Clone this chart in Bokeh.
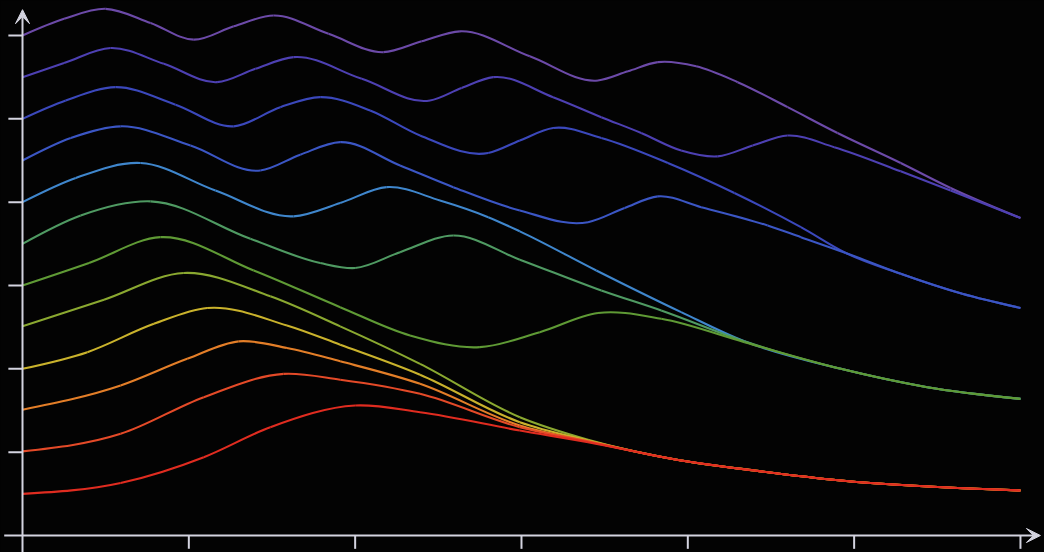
from bokeh.plotting import figure
from bokeh.models import Range1d, Arrow, VeeHead, ColumnDataSource
from bokeh.embed import file_html
from bokeh.resources import INLINE

# ---------------- data (in axis units) ----------------
x_tick_values = [1, 2, 3, 4, 5, 6]
y_tick_values = [1, 2, 3, 4, 5, 6]

x11 = [0, 0.25, 0.50, 0.77, 1.03, 1.27, 1.51, 1.84, 2.17, 2.40, 2.63, 3.05, 3.46, 3.64, 3.82, 4.05, 4.30, 4.60, 4.90, 5.28, 5.58, 6.0]
y11 = [6.0, 6.20, 6.32, 6.15, 5.95, 6.11, 6.24, 6.02, 5.80, 5.93, 6.05, 5.75, 5.46, 5.57, 5.68, 5.63, 5.44, 5.14, 4.83, 4.47, 4.17, 3.81]

x10 = [0, 0.25, 0.53, 0.85, 1.17, 1.40, 1.63, 2.04, 2.45, 2.64, 2.83, 3.19, 3.48, 3.72, 3.96, 4.18, 4.39, 4.60, 4.88, 5.28, 5.58, 6.0]
y10 = [5.5, 5.67, 5.85, 5.66, 5.44, 5.60, 5.74, 5.48, 5.22, 5.37, 5.50, 5.26, 5.02, 4.83, 4.62, 4.55, 4.68, 4.80, 4.66, 4.37, 4.14, 3.81]

x9 = [0, 0.26, 0.56, 0.92, 1.27, 1.55, 1.79, 2.09, 2.39, 2.80, 2.99, 3.19, 3.48, 3.88, 4.28, 4.68, 4.95, 5.28, 5.65, 6.0]
y9 = [5.0, 5.22, 5.38, 5.17, 4.91, 5.14, 5.26, 5.10, 4.80, 4.59, 4.74, 4.89, 4.77, 4.47, 4.11, 3.70, 3.39, 3.14, 2.90, 2.73]

x8 = [0, 0.29, 0.59, 1.01, 1.43, 1.67, 1.91, 2.27, 2.59, 2.99, 3.40, 3.62, 3.82, 4.08, 4.48, 4.68, 4.95, 5.28, 5.65, 6.0]
y8 = [4.5, 4.77, 4.91, 4.68, 4.38, 4.57, 4.72, 4.44, 4.18, 3.90, 3.76, 3.93, 4.07, 3.94, 3.72, 3.58, 3.39, 3.14, 2.90, 2.73]

x7 = [0, 0.32, 0.71, 1.16, 1.63, 1.91, 2.19, 2.51, 2.80, 2.99, 3.45, 3.96, 4.34, 4.92, 5.44, 6.0]
y7 = [4.0, 4.29, 4.47, 4.14, 3.83, 3.99, 4.18, 4.02, 3.82, 3.65, 3.18, 2.68, 2.33, 2.00, 1.78, 1.64]

x6 = [0, 0.35, 0.77, 1.37, 1.79, 2.00, 2.27, 2.59, 2.99, 3.48, 3.84, 4.34, 4.92, 5.44, 6.0]
y6 = [3.5, 3.84, 4.01, 3.56, 3.27, 3.21, 3.40, 3.60, 3.31, 2.94, 2.70, 2.33, 2.00, 1.78, 1.64]

x5 = [0, 0.40, 0.83, 1.39, 1.91, 2.33, 2.75, 3.11, 3.46, 3.84, 4.34, 4.92, 5.44, 6.0]
y5 = [3.0, 3.27, 3.58, 3.18, 2.74, 2.40, 2.26, 2.44, 2.67, 2.60, 2.32, 2.00, 1.78, 1.64]

x4 = [0, 0.49, 0.97, 1.49, 1.91, 2.39, 2.99, 3.40, 3.96, 4.40, 4.92, 6.0]
y4 = [2.51, 2.83, 3.15, 2.87, 2.51, 2.06, 1.42, 1.15, 0.90, 0.78, 0.66, 0.54]

x3 = [0, 0.39, 0.79, 1.11, 1.59, 1.91, 2.39, 2.99, 3.40, 3.96, 4.40, 4.92, 6.0]
y3 = [2.0, 2.20, 2.54, 2.73, 2.52, 2.29, 1.93, 1.36, 1.14, 0.90, 0.78, 0.66, 0.54]

x2 = [0, 0.59, 0.99, 1.30, 1.59, 1.91, 2.39, 2.99, 3.40, 3.96, 4.40, 4.92, 6.0]
y2 = [1.51, 1.80, 2.12, 2.33, 2.25, 2.09, 1.82, 1.32, 1.13, 0.90, 0.78, 0.66, 0.54]

x1 = [0, 0.59, 1.09, 1.57, 1.91, 2.39, 2.99, 3.40, 3.96, 4.40, 4.92, 6.0]
y1 = [1.01, 1.22, 1.66, 1.94, 1.87, 1.70, 1.30, 1.13, 0.90, 0.78, 0.66, 0.54]

x0 = [0, 0.59, 1.09, 1.49, 2.00, 2.39, 2.99, 3.40, 3.96, 4.40, 4.92, 6.0]
y0 = [0.50, 0.63, 0.94, 1.30, 1.56, 1.48, 1.26, 1.12, 0.90, 0.78, 0.66, 0.54]

curves_x = [x11, x10, x9, x8, x7, x6, x5, x4, x3, x2, x1, x0]
curves_y = [y11, y10, y9, y8, y7, y6, y5, y4, y3, y2, y1, y0]

# ---------------- styles ----------------
colors = ["#6c4aa8", "#4d40b2", "#3b48bb", "#3b56c4", "#3f86cc", "#4f9a62",
          "#5f9a35", "#8aa830", "#c9b22c", "#e37e28", "#e44a28", "#e02c20"]
bg = "#030303"
axis_color = "#d4d4e0"


def bezier_source(xs, ys):
    """Smooth cubic Bezier pieces (three-point tangents) through the read points."""
    n = len(xs)
    h = [xs[i + 1] - xs[i] for i in range(n - 1)]
    d = [(ys[i + 1] - ys[i]) / h[i] for i in range(n - 1)]
    m = [0.0] * n
    for k in range(1, n - 1):
        m[k] = (h[k - 1] * d[k] + h[k] * d[k - 1]) / (h[k - 1] + h[k])
    m[0] = (3 * d[0] - m[1]) / 2
    m[-1] = (3 * d[-1] - m[-2]) / 2
    src = dict(x0=[], y0=[], x1=[], y1=[], cx0=[], cy0=[], cx1=[], cy1=[])
    for i in range(n - 1):
        src["x0"].append(xs[i]); src["y0"].append(ys[i])
        src["x1"].append(xs[i + 1]); src["y1"].append(ys[i + 1])
        src["cx0"].append(xs[i] + h[i] / 3); src["cy0"].append(ys[i] + m[i] * h[i] / 3)
        src["cx1"].append(xs[i + 1] - h[i] / 3); src["cy1"].append(ys[i + 1] - m[i + 1] * h[i] / 3)
    return ColumnDataSource(src)


p = figure(width=1044, height=552, output_backend="svg", toolbar_location=None,
           x_range=Range1d(-0.1323, 6.1445), y_range=Range1d(-0.204, 6.420),
           min_border=0, background_fill_color=bg, border_fill_color=bg,
           outline_line_color=None, x_axis_type=None, y_axis_type=None)
p.grid.visible = False

for xs, ys, c in zip(curves_x, curves_y, colors):
    p.bezier(x0="x0", y0="y0", x1="x1", y1="y1", cx0="cx0", cy0="cy0", cx1="cx1", cy1="cy1",
             source=bezier_source(xs, ys), line_color=c, line_width=2.1)

# ticks
xt = ColumnDataSource(dict(x=x_tick_values, y0=[0] * len(x_tick_values),
                           y1=[-0.16] * len(x_tick_values)))
p.segment(x0="x", y0="y0", x1="x", y1="y1", source=xt, line_color=axis_color, line_width=2)
yt = ColumnDataSource(dict(y=y_tick_values, x0=[-0.085] * len(y_tick_values),
                           x1=[0] * len(y_tick_values)))
p.segment(x0="x0", y0="y", x1="x1", y1="y", source=yt, line_color=axis_color, line_width=2)

# axes with arrow heads
p.add_layout(Arrow(end=VeeHead(size=14, line_color=axis_color, fill_color=axis_color, line_width=1),
                   x_start=0, y_start=-0.21, x_end=0, y_end=6.31,
                   line_color=axis_color, line_width=2))
p.add_layout(Arrow(end=VeeHead(size=14, line_color=axis_color, fill_color=axis_color, line_width=1),
                   x_start=-0.11, y_start=0, x_end=6.12, y_end=0,
                   line_color=axis_color, line_width=2))

html = file_html(p, INLINE)
html = html.replace("<head>", "<head><style>html,body{background:#030303;}</style>", 1)
open("out.html", "w").write(html)
